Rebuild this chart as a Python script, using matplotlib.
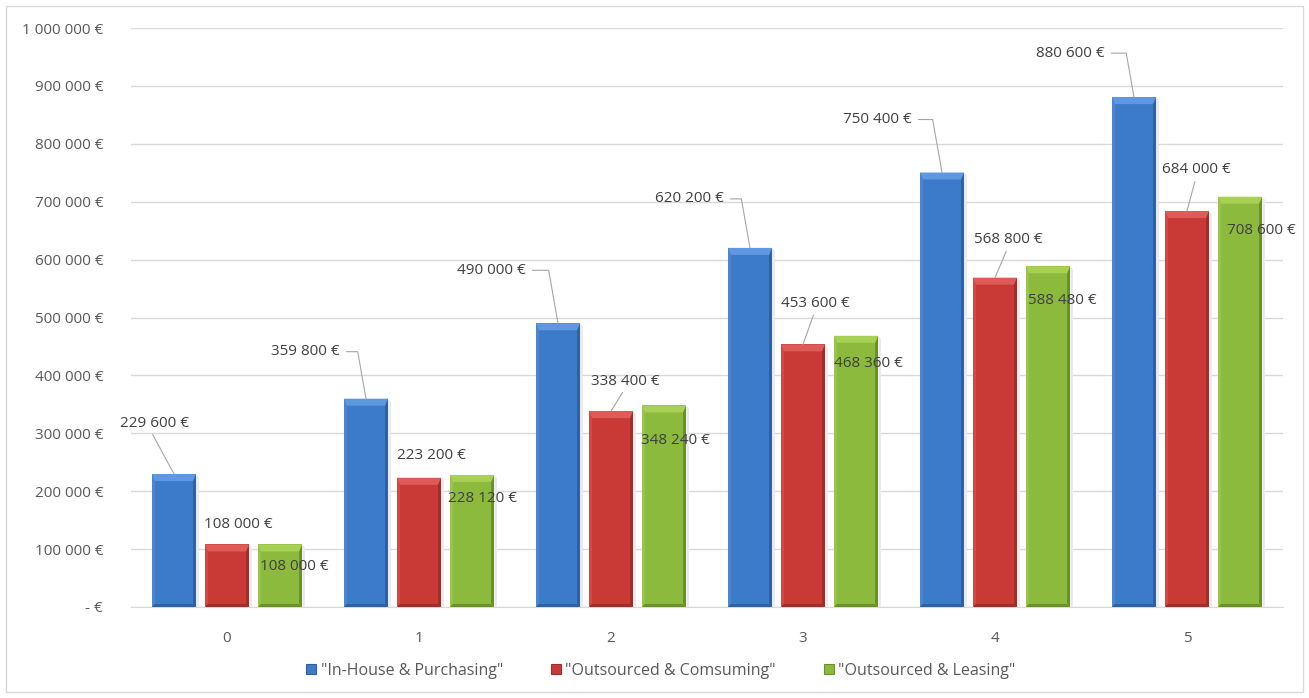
import matplotlib
matplotlib.use("Agg")
import matplotlib.pyplot as plt
from matplotlib.patches import Rectangle, Polygon, Patch
from matplotlib.ticker import FuncFormatter
import numpy as np

# ---------------- data ----------------
years = ["0", "1", "2", "3", "4", "5"]
inhouse_purchasing = [229600, 359800, 490000, 620200, 750400, 880600]
outsourced_consuming = [108000, 223200, 338400, 453600, 568800, 684000]
outsourced_leasing = [108000, 228120, 348240, 468360, 588480, 708600]
series_names = ['"In-House & Purchasing"', '"Outsourced & Comsuming"', '"Outsourced & Leasing"']
y_ticks = [0, 100000, 200000, 300000, 400000, 500000, 600000, 700000, 800000, 900000, 1000000]

# ---------------- style ----------------
plt.rcParams['font.family'] = ['Open Sans', 'DejaVu Sans']
face = ['#3c7bca', '#c93a37', '#8cba3d']
light = ['#5e98e0', '#df5b57', '#a8d054']
dark = ['#2f62a3', '#9e2e2b', '#6b9030']
side_l = ['#4886d4', '#d4474', '#98c548']
side_l = ['#4886d4', '#d44744', '#98c548']
label_col = '#404040'
tick_col = '#595959'
grid_col = '#d9d9d9'

W, H = 1309, 698
fig = plt.figure(figsize=(W / 100, H / 100), dpi=100)
ax = fig.add_axes([131 / W, 1 - 607 / H, (1283 - 131) / W, (607 - 28) / H])

# outer border of the chart area
fig.patches.append(Rectangle((6 / W, 6 / H), (W - 12) / W, (H - 12) / H,
                             transform=fig.transFigure, fill=False,
                             edgecolor='#d9d9d9', lw=1.0))

x = np.arange(len(years))
bw = 44 / 192
step = 53 / 192
all_series = [inhouse_purchasing, outsourced_consuming, outsourced_leasing]

ax.set_xlim(-0.5, len(years) - 0.5)
ax.set_ylim(0, 1000000)
ax.set_yticks(y_ticks)
ax.yaxis.set_major_formatter(FuncFormatter(
    lambda v, p: "- €" if v == 0 else f"{v:,.0f} €".replace(",", " ")))
ax.set_xticks(x)
ax.set_xticklabels(years)
ax.tick_params(axis='both', length=0, labelsize=11, colors=tick_col)
ax.tick_params(axis='y', pad=20)
ax.tick_params(axis='x', pad=17)
ax.grid(axis='y', color=grid_col, lw=1.0, zorder=0)
ax.set_axisbelow(True)
for s in ['left', 'right', 'top']:
    ax.spines[s].set_visible(False)
ax.spines['bottom'].set_color(grid_col)

inv = ax.transData.inverted()


def to_data(pts):
    return inv.transform(np.array(pts, dtype=float))


bars_all = []
for i, vals in enumerate(all_series):
    bars = ax.bar(x + (i - 1) * step, vals, width=bw, color=face[i],
                  edgecolor='none', zorder=3)
    bars_all.append(bars)
    for b in bars:
        (x0, y0), (x1, y1) = ax.transData.transform(
            [(b.get_x(), b.get_y()), (b.get_x() + b.get_width(), b.get_y() + b.get_height())])
        s, t = 3.0, 7.0
        # soft shadow
        ax.add_patch(Polygon(to_data([(x1, y0), (x1 + 3, y0), (x1 + 3, y1 - 3), (x1, y1)]),
                             closed=True, color='#ebebeb', lw=0, zorder=2.5))
        ax.add_patch(Polygon(to_data([(x0, y1), (x1, y1), (x1 - s, y1 - t), (x0 + s, y1 - t)]),
                             closed=True, color=light[i], lw=0, zorder=3.2))
        ax.add_patch(Polygon(to_data([(x0, y0), (x0, y1), (x0 + s, y1 - t), (x0 + s, y0 + s)]),
                             closed=True, color=side_l[i], lw=0, zorder=3.1))
        ax.add_patch(Polygon(to_data([(x1, y0), (x1, y1), (x1 - s, y1 - t), (x1 - s, y0 + s)]),
                             closed=True, color=dark[i], lw=0, zorder=3.1))
        ax.add_patch(Polygon(to_data([(x0, y0), (x1, y0), (x1 - s, y0 + s), (x0 + s, y0 + s)]),
                             closed=True, color=dark[i], lw=0, zorder=3.1))


def fmt(v):
    return f"{v:,.0f} €".replace(",", " ")


lead_col = '#a6a6a6'
FS = 11
# blue labels: offsets in pixels (text centre relative to bar top centre)
blue_off = [(-20, 51), (-61, 47), (-67, 53), (-61, 49), (-65, 53), (-64, 44)]
for k, b in enumerate(bars_all[0]):
    cx = b.get_x() + b.get_width() / 2
    v = b.get_height()
    dx, dy = blue_off[k]
    if k == 0:
        ap = dict(arrowstyle='-', color=lead_col, lw=0.8, shrinkA=1, shrinkB=0,
                  relpos=(0.45, 0.0))
    else:
        ap = dict(arrowstyle='-', color=lead_col, lw=0.8, shrinkA=3, shrinkB=0,
                  relpos=(1.0, 0.5), connectionstyle='angle,angleA=0,angleB=100,rad=0')
    ax.annotate(fmt(v), xy=(cx, v), xytext=(dx, dy), textcoords='offset pixels',
                ha='center', va='center', fontsize=FS, color=label_col,
                arrowprops=ap, zorder=5)

red_off = [(11, 20), (12, 22), (14, 30), (12, 41), (13, 38), (9, 41)]
for k, b in enumerate(bars_all[1]):
    cx = b.get_x() + b.get_width() / 2
    v = b.get_height()
    dx, dy = red_off[k]
    ap = None
    if dy > 25:
        ap = dict(arrowstyle='-', color=lead_col, lw=0.8, shrinkA=1, shrinkB=0,
                  relpos=(0.5, 0.0))
    ax.annotate(fmt(v), xy=(cx, v), xytext=(dx, dy), textcoords='offset pixels',
                ha='center', va='center', fontsize=FS, color=label_col,
                arrowprops=ap, zorder=5)

green_off = [(14, -22), (10, -24), (11, -35), (12, -28), (14, -34), (21, -34)]
for k, b in enumerate(bars_all[2]):
    cx = b.get_x() + b.get_width() / 2
    v = b.get_height()
    dx, dy = green_off[k]
    ax.annotate(fmt(v), xy=(cx, v), xytext=(dx, dy), textcoords='offset pixels',
                ha='center', va='center', fontsize=FS, color=label_col, zorder=5)

handles = [Patch(facecolor=face[i], edgecolor=dark[i], lw=0.8) for i in range(3)]
fig.legend(handles, series_names, loc='center', bbox_to_anchor=(0.505, 1 - 671 / H),
           ncol=3, frameon=False, fontsize=11.5, labelcolor=tick_col,
           handlelength=0.6, handleheight=0.6, handletextpad=0.3, columnspacing=3.0)

fig.savefig('out.png', dpi=100)
